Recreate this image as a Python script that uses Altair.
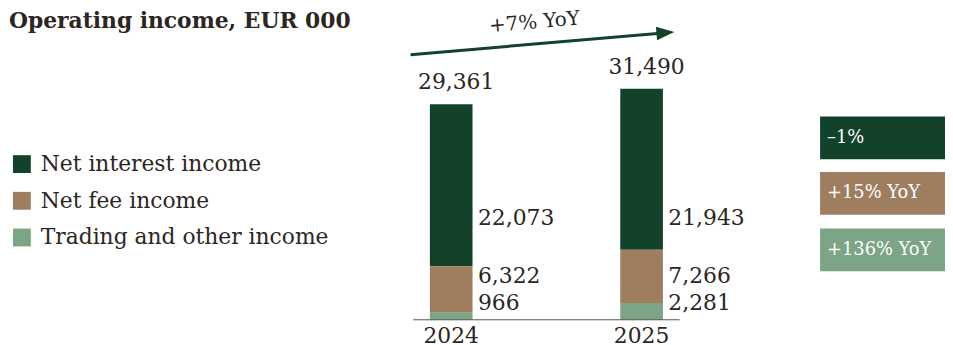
import altair as alt
import pandas as pd

# ---------------- data ----------------
years = [2024, 2025]
year_labels = ["2024", "2025"]
categories = ["Net interest income", "Net fee income", "Trading and other income"]
net_interest = [22073, 21943]
net_fee = [6322, 7266]
trading_other = [966, 2281]
totals = [29361, 31490]
category_change = ["–1%", "+15% YoY", "+136% YoY"]
total_change = "+7% YoY"
title_text = "Operating income, EUR 000"

# ---------------- style / layout ----------------
colors = ["#12422A", "#9E7E5F", "#7BA584"]
TEXT = "#2B2622"
FONT = "DejaVu Serif"
W, H = 945, 337

# stack order (bottom first): trading, fee, interest
stack_order = {categories[0]: 2, categories[1]: 1, categories[2]: 0}
label_y_px = {categories[0]: 210, categories[1]: 268.5, categories[2]: 296}
box_top_px = [108, 164, 221]
box_h = 43

series = [net_interest, net_fee, trading_other]
rows = []
for i, yr in enumerate(years):
    for cat, vals in zip(categories, series):
        rows.append({"year": yr, "category": cat, "value": vals[i],
                     "order": stack_order[cat], "ly": label_y_px[cat]})
seg = pd.DataFrame(rows)
tot = pd.DataFrame({"year": years, "total": totals, "label": year_labels})
boxes = pd.DataFrame({"category": categories, "change": category_change,
                      "top": box_top_px, "bottom": [t + box_h for t in box_top_px],
                      "mid": [t + box_h / 2 for t in box_top_px]})

x_scale = alt.Scale(domain=[2024, 2025], range=[442, 644], zero=False, nice=False)
y_scale = alt.Scale(domain=[0, 42300], range=[313, 0], nice=False, zero=True)
c_scale = alt.Scale(domain=categories, range=colors)

bars = alt.Chart(seg).mark_bar(size=43).encode(
    x=alt.X("year:Q", scale=x_scale, axis=None),
    y=alt.Y("value:Q", stack="zero", scale=y_scale, axis=None),
    color=alt.Color("category:N", scale=c_scale, legend=alt.Legend(
        title=None, orient="none", legendX=3, legendY=145, symbolType="square",
        symbolSize=324, labelFontSize=22, labelFont=FONT, labelColor=TEXT,
        labelOffset=8, rowPadding=15, padding=0, symbolStrokeWidth=0,
        symbolOpacity=1, labelLimit=400)),
    order=alt.Order("order:Q", sort="ascending"),
)

seg_labels = alt.Chart(seg).mark_text(
    align="left", baseline="middle", dx=27, font=FONT, fontSize=22, color=TEXT
).encode(
    x=alt.X("year:Q", scale=x_scale),
    y=alt.Y("ly:Q", scale=None),
    text=alt.Text("value:Q", format=","),
)

total_labels = alt.Chart(tot).mark_text(
    align="center", baseline="middle", dx=5, dy=-22, font=FONT, fontSize=22, color=TEXT
).encode(
    x=alt.X("year:Q", scale=x_scale),
    y=alt.Y("total:Q", scale=y_scale),
    text=alt.Text("total:Q", format=","),
)

year_text = alt.Chart(tot).mark_text(
    align="center", baseline="middle", font=FONT, fontSize=22, color=TEXT
).encode(
    x=alt.X("year:Q", scale=x_scale),
    y=alt.value(329),
    text="label:N",
)

baseline = alt.Chart(pd.DataFrame({"x": [2023.8], "x2": [2025.2], "y": [0]})).mark_rule(
    color="#555555", strokeWidth=1
).encode(
    x=alt.X("x:Q", scale=x_scale), x2="x2:Q", y=alt.Y("y:Q", scale=y_scale)
)

arrow_line = alt.Chart(pd.DataFrame({"a": [0]})).mark_rule(
    color=colors[0], strokeWidth=3
).encode(x=alt.value(406), x2=alt.value(655), y=alt.value(45.7), y2=alt.value(24.2))

arrow_head = alt.Chart(pd.DataFrame({"a": [0]})).mark_point(
    shape="M1,0L-1,-0.75L-1,0.75Z", filled=True, size=324, angle=355,
    color=colors[0], opacity=1, strokeWidth=0
).encode(x=alt.value(663), y=alt.value(23.5))

arrow_text = alt.Chart(pd.DataFrame({"t": [total_change]})).mark_text(
    align="center", baseline="middle", angle=355, font=FONT, fontSize=20, color=TEXT
).encode(x=alt.value(531), y=alt.value(13), text="t:N")

title = alt.Chart(pd.DataFrame({"t": [title_text]})).mark_text(
    align="left", baseline="alphabetic", font=FONT, fontSize=22, fontWeight="bold", color=TEXT
).encode(x=alt.value(1), y=alt.value(19), text="t:N")

box_rects = alt.Chart(boxes).mark_rect().encode(
    x=alt.value(819), x2=alt.value(945),
    y=alt.Y("top:Q", scale=None), y2="bottom:Q",
    color=alt.Color("category:N", scale=c_scale, legend=None),
)

box_text = alt.Chart(boxes).mark_text(
    align="left", baseline="middle", font=FONT, fontSize=18, color="white"
).encode(x=alt.value(826), y=alt.Y("mid:Q", scale=None), text="change:N")

chart = alt.layer(
    bars, baseline, seg_labels, total_labels, year_text,
    arrow_line, arrow_head, arrow_text, title, box_rects, box_text
).properties(
    width=W, height=H, padding=0, autosize=alt.AutoSizeParams(type="none"),
    background="white"
).configure_view(stroke=None)

chart.save("out.html", embed_options={"renderer": "svg", "actions": False})
